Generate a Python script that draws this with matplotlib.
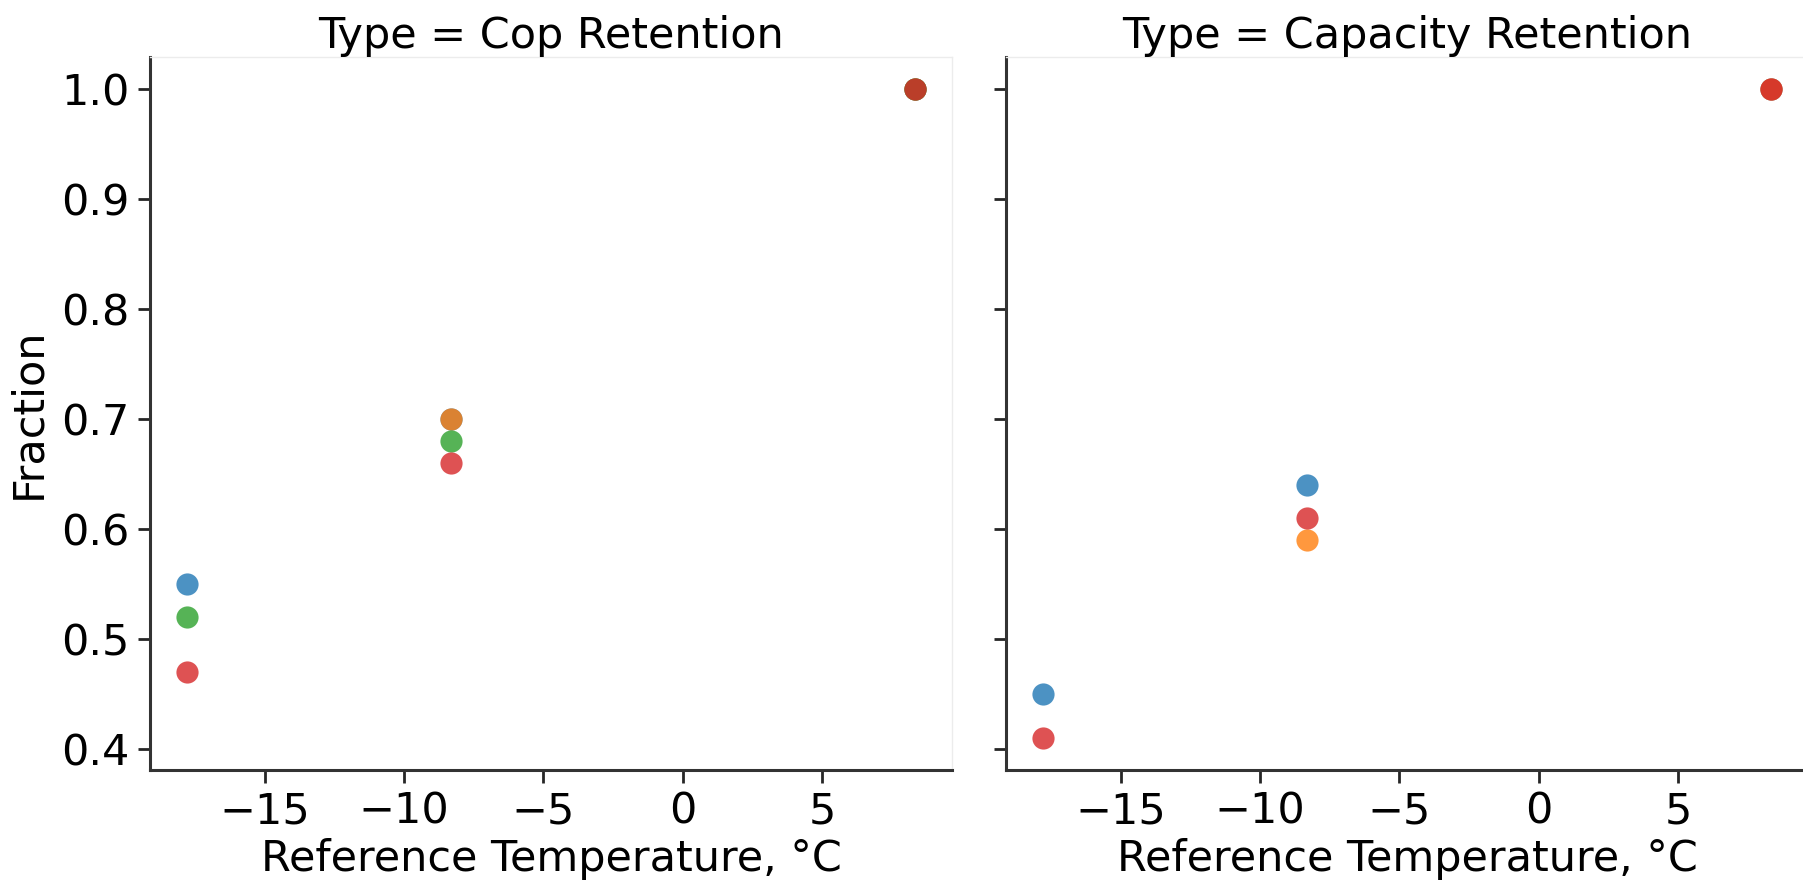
import matplotlib
matplotlib.use("Agg")
import matplotlib.pyplot as plt

# Reference temperatures (0 °F, 17 °F, 47 °F in °C)
temps = [-17.78, -8.33, 8.33]

panels = ["Cop Retention", "Capacity Retention"]
series_names = ["A", "B", "C", "D"]
series_colors = ["tab:blue", "tab:orange", "tab:green", "tab:red"]

# Fraction values per panel and series (None = no measurement)
cop_a = [0.55, 0.70, 1.0]
cop_b = [None, 0.70, 1.0]
cop_c = [0.52, 0.68, 1.0]
cop_d = [0.47, 0.66, 1.0]

cap_a = [0.45, 0.64, 1.0]
cap_b = [None, 0.59, 1.0]
cap_c = [None, None, None]
cap_d = [0.41, 0.61, 1.0]

panel_data = {
    "Cop Retention": [cop_a, cop_b, cop_c, cop_d],
    "Capacity Retention": [cap_a, cap_b, cap_c, cap_d],
}

FS = 31
plt.rcParams["font.family"] = ["DejaVu Sans"]
fig = plt.figure(figsize=(18.03, 8.81), dpi=100)

W, H = 1803, 881
axes = []
lefts = [150, 1006]
width = 802
bottom_px, top_px = 770, 57
for i, name in enumerate(panels):
    ax = fig.add_axes([lefts[i] / W, 1 - bottom_px / H, width / W, (bottom_px - top_px) / H],
                      sharey=axes[0] if axes else None)
    axes.append(ax)
    for vals, color in zip(panel_data[name], series_colors):
        xs = [t for t, v in zip(temps, vals) if v is not None]
        ys = [v for v in vals if v is not None]
        if xs:
            ax.scatter(xs, ys, s=255, color=color, alpha=0.8, linewidths=0, zorder=3)
    ax.set_title(f"Type = {name}", fontsize=FS, pad=6)
    ax.set_xlabel("Reference Temperature, °C", fontsize=FS, labelpad=4)
    ax.set_xticks([-15, -10, -5, 0, 5])
    ax.set_xticklabels(["\u221215", "\u221210", "\u22125", "0", "5"])
    ax.tick_params(axis="both", labelsize=FS, length=9, width=2, color="#262626",
                   labelcolor="black", pad=6)
    for side in ["left", "bottom"]:
        ax.spines[side].set_color("#333333")
        ax.spines[side].set_linewidth(2.2)
    for side in ["top", "right"]:
        ax.spines[side].set_color("#ececec")
        ax.spines[side].set_linewidth(1)
    ax.set_xlim(-19.11, 9.66)

axes[0].set_ylim(0.3805, 1.0295)
axes[0].set_yticks([0.4, 0.5, 0.6, 0.7, 0.8, 0.9, 1.0])
axes[0].set_ylabel("Fraction", fontsize=FS, labelpad=8)
axes[1].tick_params(axis="y", labelleft=False)

fig.savefig("out.png", dpi=100)
